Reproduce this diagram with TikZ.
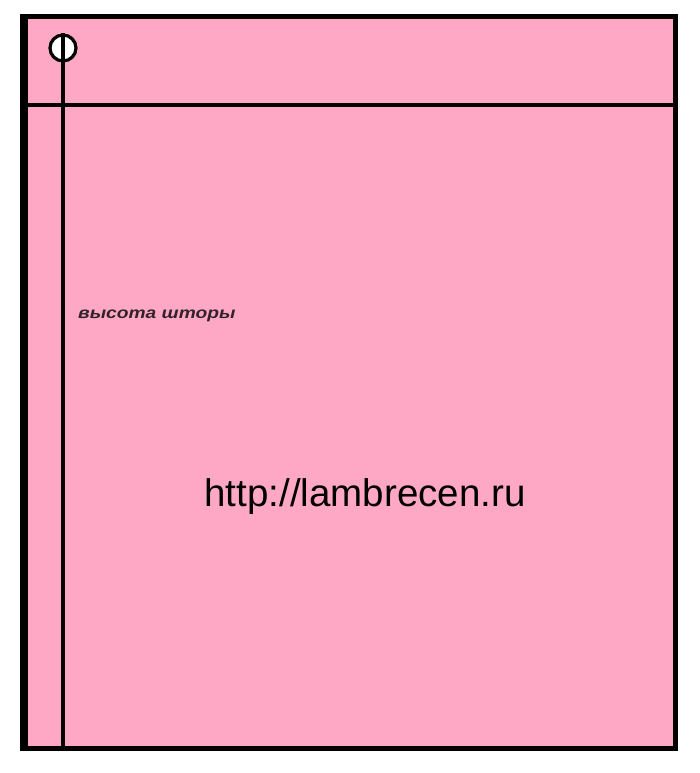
\documentclass[tikz,border=0pt]{standalone}
\usepackage{fontspec}
\setmainfont{Liberation Sans}
\usetikzlibrary{positioning}
\definecolor{curtain}{RGB}{255,168,197}
\definecolor{labelink}{RGB}{50,35,42}

\begin{document}
\begin{tikzpicture}[x=1pt, y=-1pt,
		ring/.style = {draw, circle, fill=white, line width=3.2pt, minimum size=26pt, inner sep=0pt},
		hint/.style = {font=\fontsize{16}{18}\selectfont\bfseries\itshape, text=labelink, inner sep=0pt, xscale=1.2},
		site/.style = {font=\fontsize{38.5}{44}\selectfont, inner sep=0pt}]
		\useasboundingbox (0,0) rectangle (700,773);
		\fill[white] (0,0) rectangle (700,773);
		% curtain panel
		\fill[curtain] (24,16) rectangle (675,748);
		\draw[line width=5pt] (24,16.5) rectangle (675,748.5);
		\draw[line width=7.5pt] (24,14) -- (24,751);
		\coordinate (rodL) at (24,105);
		\coordinate (rodR) at (675,105);
		\draw[line width=3.5pt] (rodL) -- (rodR);
		% ring and drop line
		\node[ring] (1) at (63,48) {};
		\coordinate (2) at (63,748);
		\draw[line width=3.2pt] (1.north) -- (2);
		% texts
		\node[hint] (3) [anchor=base west] at (78,318) {высота шторы};
		\node[site] (4) [anchor=base] at (365,506) {http://lambrecen.ru};
	\end{tikzpicture}
\end{document}
